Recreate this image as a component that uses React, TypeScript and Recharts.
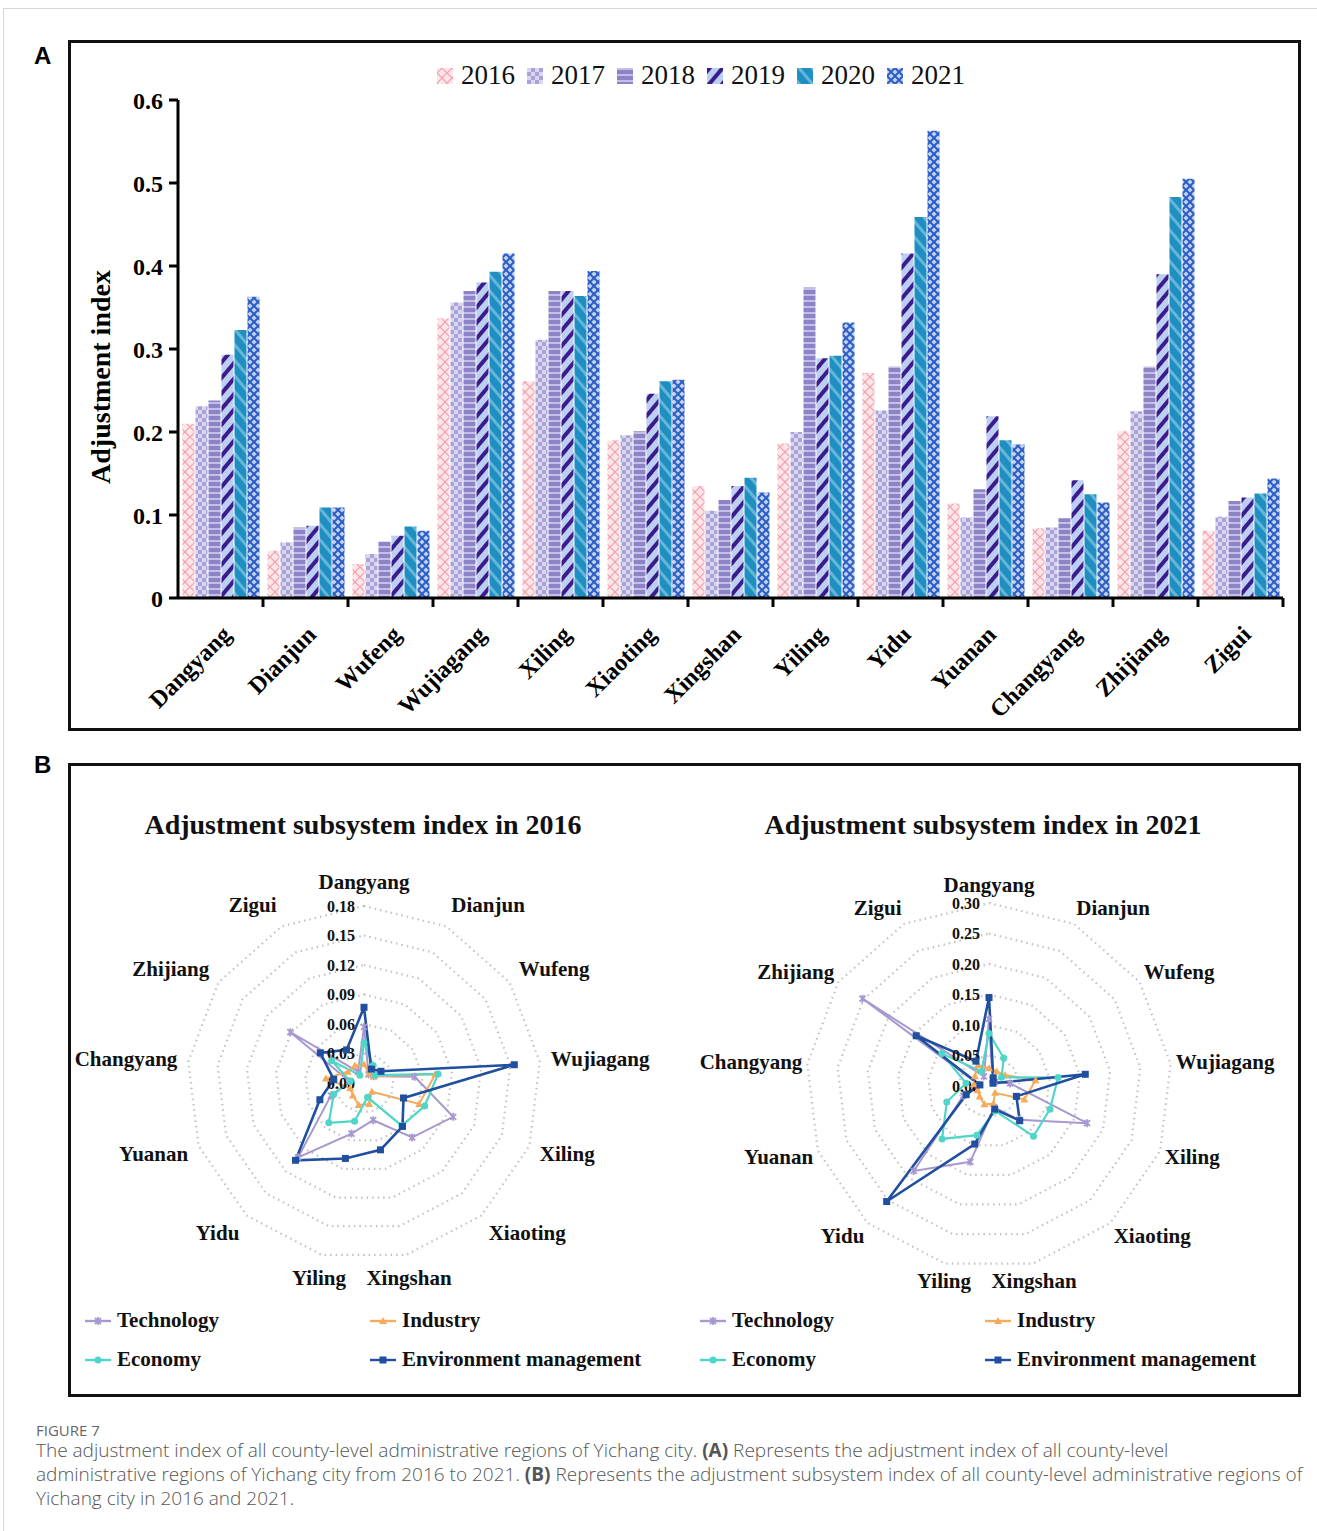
import React from "react";
import {
  BarChart,
  Bar,
  XAxis,
  YAxis,
  RadarChart,
  Radar,
  PolarGrid,
  PolarAngleAxis,
  PolarRadiusAxis,
} from "recharts";

const counties = [
  "Dangyang", "Dianjun", "Wufeng", "Wujiagang", "Xiling", "Xiaoting", "Xingshan",
  "Yiling", "Yidu", "Yuanan", "Changyang", "Zhijiang", "Zigui",
];
const years = ["2016", "2017", "2018", "2019", "2020", "2021"];

// panel A: adjustment index by year
const idx2016 = [0.210, 0.057, 0.041, 0.337, 0.261, 0.190, 0.135, 0.186, 0.271, 0.114, 0.084, 0.201, 0.081];
const idx2017 = [0.231, 0.067, 0.053, 0.356, 0.311, 0.196, 0.105, 0.200, 0.226, 0.097, 0.085, 0.225, 0.098];
const idx2018 = [0.238, 0.085, 0.068, 0.370, 0.370, 0.201, 0.118, 0.374, 0.279, 0.131, 0.096, 0.279, 0.117];
const idx2019 = [0.293, 0.087, 0.075, 0.380, 0.370, 0.246, 0.135, 0.289, 0.415, 0.219, 0.142, 0.390, 0.121];
const idx2020 = [0.323, 0.109, 0.086, 0.393, 0.364, 0.261, 0.145, 0.292, 0.459, 0.190, 0.125, 0.483, 0.126];
const idx2021 = [0.363, 0.109, 0.081, 0.415, 0.394, 0.263, 0.127, 0.332, 0.563, 0.185, 0.115, 0.505, 0.144];
const yTicks = [0, 0.1, 0.2, 0.3, 0.4, 0.5, 0.6];

// panel B: subsystem index, 2016
const tech2016 = [0.057, 0.010, 0.012, 0.052, 0.097, 0.074, 0.039, 0.053, 0.101, 0.036, 0.015, 0.091, 0.013];
const ind2016 = [0.019, 0.011, 0.012, 0.073, 0.060, 0.012, 0.022, 0.023, 0.017, 0.015, 0.039, 0.020, 0.020];
const eco2016 = [0.041, 0.020, 0.014, 0.076, 0.066, 0.058, 0.015, 0.040, 0.054, 0.033, 0.014, 0.040, 0.009];
const env2016 = [0.077, 0.016, 0.021, 0.154, 0.043, 0.059, 0.070, 0.079, 0.105, 0.048, 0.031, 0.054, 0.038];

// panel B: subsystem index, 2021
const tech2021 = [0.110, 0.012, 0.012, 0.035, 0.172, 0.074, 0.036, 0.128, 0.186, 0.045, 0.016, 0.252, 0.018];
const ind2021 = [0.029, 0.027, 0.032, 0.077, 0.062, 0.015, 0.030, 0.031, 0.023, 0.020, 0.025, 0.028, 0.039];
const eco2021 = [0.086, 0.052, 0.025, 0.114, 0.107, 0.110, 0.042, 0.083, 0.116, 0.074, 0.038, 0.094, 0.027];
const env2021 = [0.145, 0.015, 0.008, 0.159, 0.048, 0.076, 0.039, 0.098, 0.253, 0.040, 0.015, 0.145, 0.046];

const SERIF = "'Liberation Serif', 'Times New Roman', serif";
const CAPTION_FONT = "'Open Sans', 'Noto Sans', sans-serif";

const barData = counties.map((name, i) => ({
  name,
  y2016: idx2016[i],
  y2017: idx2017[i],
  y2018: idx2018[i],
  y2019: idx2019[i],
  y2020: idx2020[i],
  y2021: idx2021[i],
}));

const series = [
  { key: "tech", label: "Technology", color: "#a898d0", width: 2 },
  { key: "ind", label: "Industry", color: "#f5ab5c", width: 2 },
  { key: "eco", label: "Economy", color: "#4fd6c8", width: 2.2 },
  { key: "env", label: "Environment management", color: "#1f4f9e", width: 2.6 },
];

const rows2016 = counties.map((name, i) => ({
  name, tech: tech2016[i], ind: ind2016[i], eco: eco2016[i], env: env2016[i],
}));
const rows2021 = counties.map((name, i) => ({
  name, tech: tech2021[i], ind: ind2021[i], eco: eco2021[i], env: env2021[i],
}));

function Patterns() {
  return (
    <svg width={0} height={0} style={{ position: "absolute" }}>
      <defs>
        <pattern id="pat2016" width="10" height="10" patternUnits="userSpaceOnUse">
          <rect width="10" height="10" fill="#fde6e9" />
          <path d="M0,5 L5,0 L10,5 L5,10 Z" fill="none" stroke="#f2a2ad" strokeWidth="1.2" />
        </pattern>
        <pattern id="pat2017" width="8" height="8" patternUnits="userSpaceOnUse">
          <rect width="8" height="8" fill="#aaa3d7" />
          <rect x="0" y="0" width="4" height="4" fill="#dad6f0" />
          <rect x="4" y="4" width="4" height="4" fill="#dad6f0" />
        </pattern>
        <pattern id="pat2018" width="6" height="6" patternUnits="userSpaceOnUse">
          <rect width="6" height="6" fill="#8c84c6" />
          <rect y="0" width="6" height="2" fill="#c4bfe6" />
        </pattern>
        <pattern id="pat2019" width="10" height="10" patternUnits="userSpaceOnUse" patternTransform="rotate(40)">
          <rect width="10" height="10" fill="#bccff2" />
          <rect width="4" height="10" fill="#3b1c8c" />
        </pattern>
        <pattern id="pat2020" width="10" height="10" patternUnits="userSpaceOnUse" patternTransform="rotate(-40)">
          <rect width="10" height="10" fill="#1f8fc1" />
          <rect width="3" height="10" fill="#66b6da" />
        </pattern>
        <pattern id="pat2021" width="8" height="8" patternUnits="userSpaceOnUse">
          <rect width="8" height="8" fill="#c3d2f2" />
          <path d="M0,0 L8,8 M8,0 L0,8" stroke="#2b5ec4" strokeWidth="2" />
        </pattern>
      </defs>
    </svg>
  );
}

// eslint-disable-next-line @typescript-eslint/no-explicit-any
const CountyTick = (props: any) => {
  const { x, y, payload } = props;
  const half = payload.offset ?? 42.5;
  const ax = x + 12;
  const ay = y + 38;
  return (
    <g>
      <line x1={x + half} x2={x + half} y1={y} y2={y + 9} stroke="#000" strokeWidth={3} />
      <text
        x={ax}
        y={ay}
        transform={`rotate(-45 ${ax} ${ay})`}
        textAnchor="end"
        fontFamily={SERIF}
        fontWeight="bold"
        fontSize={24}
        fill="#000"
      >
        {payload.value}
      </text>
    </g>
  );
};

const YLabel = () => (
  <text
    x={30}
    y={335}
    transform="rotate(-90 30 335)"
    textAnchor="middle"
    dominantBaseline="central"
    fontFamily={SERIF}
    fontWeight="bold"
    fontSize={28}
    fill="#000"
  >
    Adjustment index
  </text>
);

function BarLegend() {
  return (
    <div
      style={{
        position: "absolute",
        left: 437,
        top: 60,
        display: "flex",
        alignItems: "center",
        fontFamily: SERIF,
        fontSize: 27,
        color: "#111",
      }}
    >
      {years.map((y) => (
        <div key={y} style={{ display: "flex", alignItems: "center", marginRight: 12 }}>
          <svg width={16} height={16} style={{ marginRight: 8 }}>
            <rect width={16} height={16} fill={`url(#pat${y})`} />
          </svg>
          <span>{y}</span>
        </div>
      ))}
    </div>
  );
}

// markers for the radar series
// eslint-disable-next-line @typescript-eslint/no-explicit-any
const makeDot = (key: string, color: string) => (p: any) => {
  const { cx, cy, index } = p;
  const k = `${key}-${index}`;
  if (cx == null || cy == null) return <g key={k} />;
  if (key === "env") return <rect key={k} x={cx - 3.5} y={cy - 3.5} width={7} height={7} fill={color} />;
  if (key === "eco") return <circle key={k} cx={cx} cy={cy} r={3.5} fill={color} />;
  if (key === "ind")
    return <path key={k} d={`M${cx},${cy - 4} L${cx + 4},${cy + 3} L${cx - 4},${cy + 3} Z`} fill={color} />;
  return (
    <path
      key={k}
      d={`M${cx - 3},${cy - 3} L${cx + 3},${cy + 3} M${cx + 3},${cy - 3} L${cx - 3},${cy + 3} M${cx},${cy - 4} L${cx},${cy + 4}`}
      stroke={color}
      strokeWidth={1.8}
    />
  );
};

const CX = 350;
const CY = 250;

// eslint-disable-next-line @typescript-eslint/no-explicit-any
const AngleTick = (props: any) => {
  const { x, y, payload } = props;
  const dx = x - CX;
  const dy = y - CY;
  const len = Math.hypot(dx, dy) || 1;
  const s = dx / len;
  const c = -dy / len;
  const anchor = Math.abs(s) < 0.3 ? "middle" : s > 0 ? "start" : "end";
  return (
    <text
      x={CX + 188 * s}
      y={CY - 201 * c}
      textAnchor={anchor}
      dominantBaseline="central"
      fontFamily={SERIF}
      fontWeight="bold"
      fontSize={21}
      fill="#111"
    >
      {payload.value}
    </text>
  );
};

// eslint-disable-next-line @typescript-eslint/no-explicit-any
const RadiusTick = (props: any) => {
  const { x, y, payload } = props;
  return (
    <text
      x={x - 9}
      y={y}
      textAnchor="end"
      dominantBaseline="central"
      fontFamily={SERIF}
      fontWeight="bold"
      fontSize={16}
      fill="#111"
    >
      {Number(payload.value).toFixed(2)}
    </text>
  );
};

interface RadarProps {
  rows: { name: string; tech: number; ind: number; eco: number; env: number }[];
  max: number;
  radius: number;
}

function SubsystemRadar({ rows, max, radius }: RadarProps) {
  return (
    <RadarChart
      width={700}
      height={500}
      data={rows}
      cx={CX}
      cy={CY}
      outerRadius={radius}
      margin={{ top: 0, right: 0, bottom: 0, left: 0 }}
    >
      <PolarGrid gridType="polygon" radialLines={false} stroke="#c2c2c2" strokeWidth={2.2} strokeDasharray="1.5 4" />
      <PolarAngleAxis dataKey="name" tick={AngleTick} axisLine={false} tickLine={false} />
      <PolarRadiusAxis
        angle={90}
        type="number"
        domain={[0, max]}
        tickCount={7}
        allowDecimals
        axisLine={false}
        tickLine={false}
        tick={RadiusTick}
      />
      {series.map((s) => (
        <Radar
          key={s.key}
          dataKey={s.key}
          stroke={s.color}
          strokeWidth={s.width}
          fill="none"
          fillOpacity={0}
          dot={makeDot(s.key, s.color)}
          isAnimationActive={false}
        />
      ))}
    </RadarChart>
  );
}

function RadarLegend({ left }: { left: number }) {
  const pos = [
    { dx: 0, dy: 0 },
    { dx: 285, dy: 0 },
    { dx: 0, dy: 39 },
    { dx: 285, dy: 39 },
  ];
  return (
    <>
      {series.map((s, i) => (
        <div
          key={s.key}
          style={{
            position: "absolute",
            left: left + pos[i].dx,
            top: 1308 + pos[i].dy,
            display: "flex",
            alignItems: "center",
            fontFamily: SERIF,
            fontWeight: "bold",
            fontSize: 21,
            color: "#111",
            whiteSpace: "nowrap",
          }}
        >
          <svg width={26} height={12} style={{ marginRight: 6 }}>
            <line x1={0} x2={26} y1={6} y2={6} stroke={s.color} strokeWidth={2.4} />
            {makeDot(s.key, s.color)({ cx: 13, cy: 6, index: 0 })}
          </svg>
          <span>{s.label}</span>
        </div>
      ))}
    </>
  );
}

const titleStyle: React.CSSProperties = {
  position: "absolute",
  width: 640,
  top: 809,
  textAlign: "center",
  fontFamily: SERIF,
  fontWeight: "bold",
  fontSize: 28,
  color: "#111",
  whiteSpace: "nowrap",
};

export default function App() {
  return (
    <div style={{ position: "absolute", left: 0, top: 0, width: 1317, height: 1531, background: "#fff", overflow: "hidden" }}>
      <Patterns />
      <div
        style={{
          position: "absolute",
          left: 3,
          top: 8,
          width: 1320,
          height: 1530,
          borderTop: "1px solid #d6d6d6",
          borderLeft: "1px solid #d6d6d6",
        }}
      />

      <div style={{ position: "absolute", left: 34, top: 42, fontFamily: "'Liberation Sans', Arial, sans-serif", fontWeight: "bold", fontSize: 24 }}>
        A
      </div>
      <div style={{ position: "absolute", left: 34, top: 751, fontFamily: "'Liberation Sans', Arial, sans-serif", fontWeight: "bold", fontSize: 24 }}>
        B
      </div>

      {/* panel A */}
      <div style={{ position: "absolute", left: 68, top: 40, width: 1227, height: 685, border: "3px solid #111" }} />
      <div style={{ position: "absolute", left: 70, top: 42 }}>
        <BarChart
          width={1227}
          height={685}
          data={barData}
          margin={{ top: 58, right: 14, bottom: 0, left: 0 }}
          barCategoryGap={4.5}
          barGap={1}
        >
          <XAxis
            dataKey="name"
            height={129}
            interval={0}
            tickSize={0}
            tickMargin={0}
            tickLine={false}
            axisLine={{ stroke: "#000", strokeWidth: 3 }}
            tick={CountyTick}
          />
          <YAxis
            width={108}
            domain={[0, 0.6]}
            ticks={yTicks}
            interval={0}
            tickSize={9}
            tickMargin={6}
            tickFormatter={(v: number) => (v === 0 ? "0" : v.toFixed(1))}
            axisLine={{ stroke: "#000", strokeWidth: 3 }}
            tickLine={{ stroke: "#000", strokeWidth: 3 }}
            tick={{ fontFamily: SERIF, fontWeight: "bold", fontSize: 24, fill: "#000" }}
            label={{ content: YLabel }}
          />
          {years.map((y) => (
            <Bar key={y} dataKey={`y${y}`} fill={`url(#pat${y})`} isAnimationActive={false} />
          ))}
        </BarChart>
      </div>
      <BarLegend />

      {/* panel B */}
      <div style={{ position: "absolute", left: 68, top: 763, width: 1227, height: 628, border: "3px solid #111" }} />
      <div style={{ ...titleStyle, left: 43 }}>Adjustment subsystem index in 2016</div>
      <div style={{ ...titleStyle, left: 663 }}>Adjustment subsystem index in 2021</div>
      <div style={{ position: "absolute", left: 364 - CX, top: 1083 - CY }}>
        <SubsystemRadar rows={rows2016} max={0.18} radius={177} />
      </div>
      <div style={{ position: "absolute", left: 989 - CX, top: 1086 - CY }}>
        <SubsystemRadar rows={rows2021} max={0.3} radius={183} />
      </div>
      <RadarLegend left={85} />
      <RadarLegend left={700} />

      {/* caption */}
      <div
        style={{
          position: "absolute",
          left: 36,
          top: 1422,
          fontFamily: CAPTION_FONT,
          fontSize: 15,
          lineHeight: "16px",
          color: "#666",
        }}
      >
        FIGURE 7
      </div>
      <div
        style={{
          position: "absolute",
          left: 36,
          top: 1438,
          fontFamily: CAPTION_FONT,
          fontWeight: 300,
          fontSize: 19,
          lineHeight: "24px",
          color: "#555",
          whiteSpace: "nowrap",
        }}
      >
        The adjustment index of all county-level administrative regions of Yichang city. <b style={{ fontWeight: 700 }}>(A)</b> Represents the adjustment index of all county-level
        <br />
        administrative regions of Yichang city from 2016 to 2021. <b style={{ fontWeight: 700 }}>(B)</b> Represents the adjustment subsystem index of all county-level administrative regions of
        <br />
        Yichang city in 2016 and 2021.
      </div>
    </div>
  );
}
